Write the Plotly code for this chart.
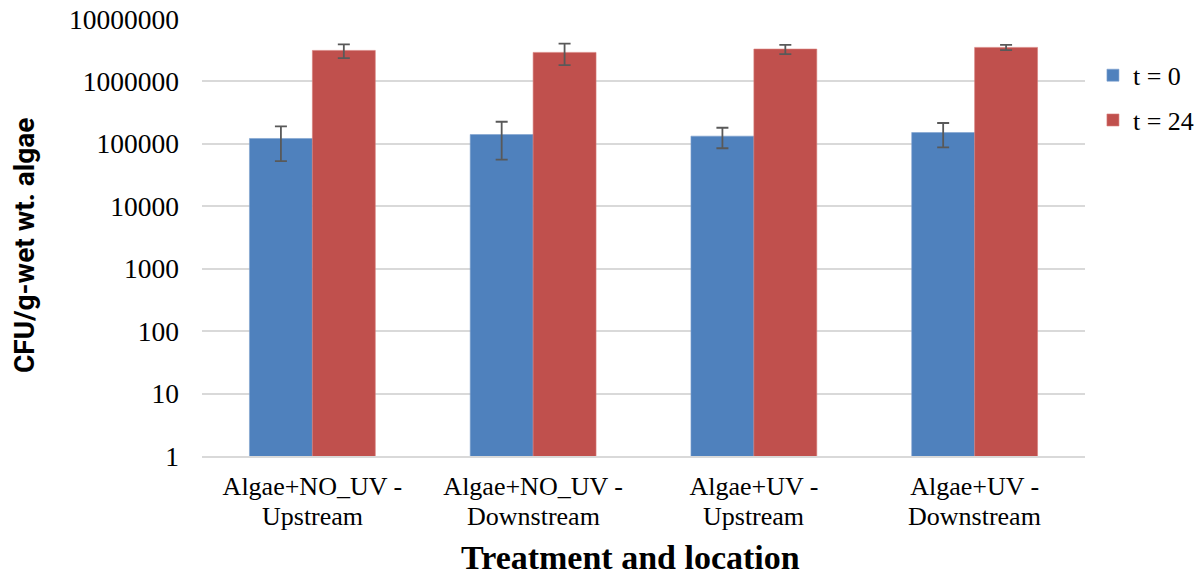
import plotly.graph_objects as go

categories = ["Algae+NO_UV -<br>Upstream", "Algae+NO_UV -<br>Downstream",
              "Algae+UV -<br>Upstream", "Algae+UV -<br>Downstream"]
t0_values = [122000, 141000, 133000, 152000]
t0_errors = [69000, 85000, 48000, 64000]
t24_values = [3140000, 2920000, 3300000, 3510000]
t24_errors = [770000, 1100000, 560000, 340000]
y_tickvals = [1, 10, 100, 1000, 10000, 100000, 1000000, 10000000]
y_ticktext = ["1", "10", "100", "1000", "10000", "100000", "1000000", "10000000"]

serif = "Liberation Serif, Times New Roman, serif"
err_style = dict(type="data", visible=True, color="#595959", thickness=1.8, width=6)

fig = go.Figure()
fig.add_trace(go.Bar(name="t = 0", x=categories, y=t0_values, legendgroup="a",
                     marker=dict(color="#4F81BD", line=dict(color="#7FA1CF", width=0.6)),
                     error_y=dict(array=t0_errors, **err_style)))
fig.add_trace(go.Bar(name="t = 24", x=categories, y=t24_values, legendgroup="b",
                     marker=dict(color="#C0504D", line=dict(color="#D67C79", width=0.6)),
                     error_y=dict(array=t24_errors, **err_style)))

L, R, T, B = 202, 115, 19, 121
W, H = 1200, 577
pw, ph = W - L - R, H - T - B

# two-line category labels: first line as tick text, second line as annotation (tighter line spacing)
first_lines = [c.split("<br>")[0] for c in categories]
second_lines = [c.split("<br>")[1] for c in categories]
second_line_annots = [
    dict(text=s, x=c, xref="x", yref="paper", y=-(516 - (H - B)) / ph,
         xanchor="center", yanchor="middle", showarrow=False,
         font=dict(family=serif, size=26, color="black"))
    for c, s in zip(categories, second_lines)
]

fig.update_layout(
    width=W, height=H,
    margin=dict(l=L, r=R, t=T, b=B, autoexpand=False),
    paper_bgcolor="white", plot_bgcolor="white",
    barmode="group", bargap=0.43, bargroupgap=0,
    font=dict(family=serif, size=26, color="black"),
    legend=dict(x=1.009, y=0.925, xanchor="left", yanchor="top",
                font=dict(family=serif, size=26), traceorder="grouped",
                tracegroupgap=8, itemwidth=30),
    showlegend=True,
    annotations=[
        dict(text="<b>CFU/g-wet wt. algae</b>", xref="paper", yref="paper",
             x=-(L - 24) / pw, y=1 - (246 - T) / ph, xanchor="center", yanchor="middle",
             textangle=-90, showarrow=False,
             font=dict(family="Roboto, Open Sans, sans-serif", size=28, color="black")),
        dict(text="<b>Treatment and location</b>", xref="paper", yref="paper",
             x=(630 - L) / pw, y=-(557 - (H - B)) / ph, xanchor="center", yanchor="middle",
             showarrow=False, font=dict(family=serif, size=34, color="black")),
    ] + second_line_annots,
)
fig.update_yaxes(type="log", range=[0, 7], tickvals=y_tickvals, ticktext=y_ticktext,
                 showgrid=True, gridcolor="#D9D9D9", gridwidth=1.5, automargin=False,
                 zeroline=False, showline=False, ticks="", ticklabelstandoff=22,
                 tickfont=dict(family=serif, size=27.5))
fig.update_xaxes(showline=True, linecolor="#D9D9D9", linewidth=1.5, ticks="",
                 automargin=False, ticklabelstandoff=6,
                 tickvals=categories, ticktext=first_lines,
                 tickfont=dict(family=serif, size=26))

fig.write_html("out.html", post_script="document.body.style.margin='0';",
               config={"displayModeBar": False})
